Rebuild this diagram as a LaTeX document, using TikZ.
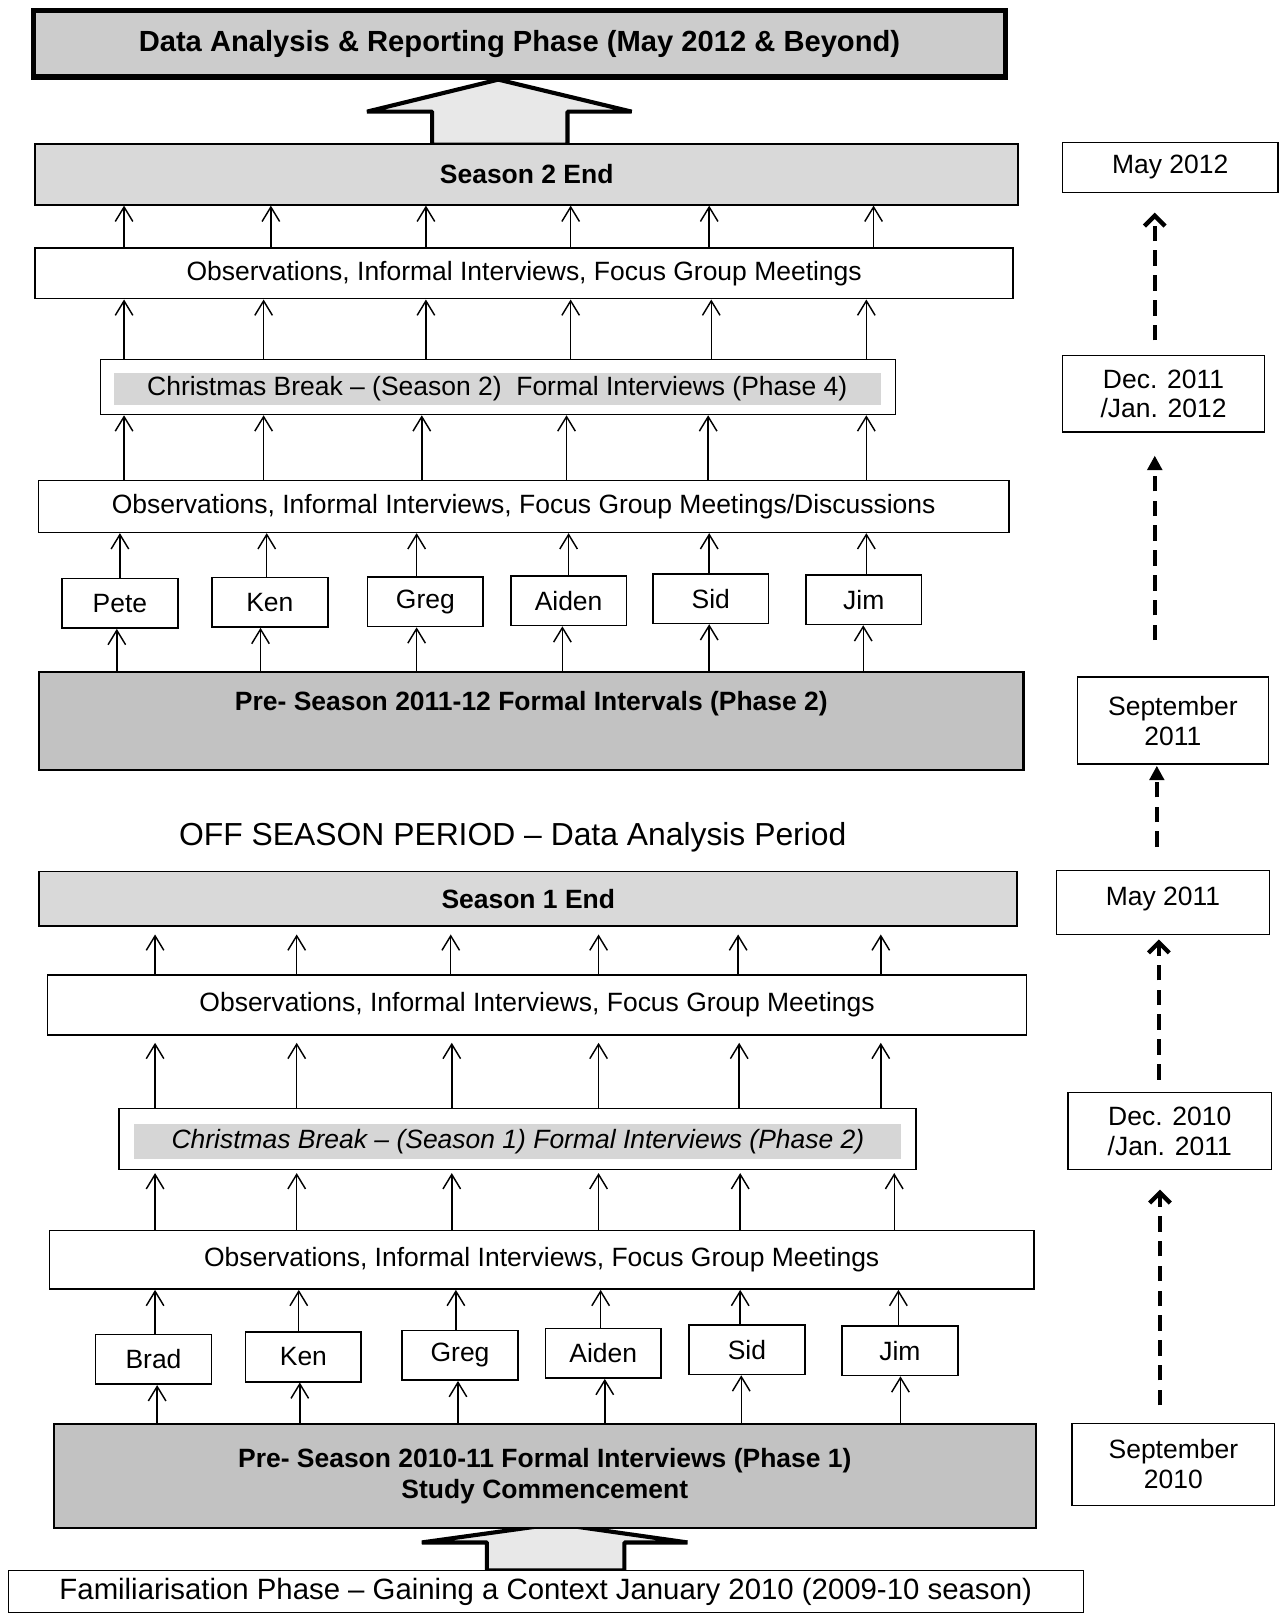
\documentclass[tikz,border=0pt]{standalone}
\usepackage{fontspec}
\setmainfont{Liberation Sans}
\usetikzlibrary{arrows.meta}
\definecolor{titlegray}{gray}{0.80}
\definecolor{endgray}{gray}{0.85}
\definecolor{pregray}{gray}{0.76}
\definecolor{bandgray}{gray}{0.84}
\definecolor{arrowfill}{gray}{0.91}
\begin{document}
\begin{tikzpicture}[x=0.5pt,y=-0.5pt,
  every node/.style={font=\fontsize{12.8}{14.5}\selectfont, inner sep=0pt, align=center},
  sz/.style 2 args={minimum width=#1*0.5pt, minimum height=#2*0.5pt},
  plain/.style={rectangle, draw, line width=0.7pt, fill=white},
  endbox/.style={rectangle, draw, line width=0.9pt, fill=endgray, font=\fontsize{12.8}{14.5}\selectfont\bfseries},
  prebox/.style={rectangle, draw, line width=1pt, fill=pregray, font=\fontsize{12.8}{15}\selectfont\bfseries},
  namebox/.style={plain, line width=0.8pt, sz={112}{48}},
  datebox/.style={plain},
  band/.style={rectangle, fill=bandgray},
  up/.style={line width=0.7pt, -{Straight Barb[length=7pt,width=8.5pt]}},
  timeline/.style={line width=2.1pt, dash pattern=on 7.5pt off 4.5pt},
  barbtip/.style={-{Straight Barb[length=5pt,width=10pt]}},
  filltip/.style={-{Triangle[length=7pt,width=7pt]}},
  blockarrow/.style={draw, line width=2pt, fill=arrowfill, line join=bevel}
]
\useasboundingbox (0,0) rectangle (1237,1568);
\fill[white] (0,0) rectangle (1237,1568);

% ---------- block arrows ----------
\path[blockarrow] (418,140) -- (418,108) -- (355,108) -- (482,77) -- (611,108)
  -- (549,108) -- (549,140) -- cycle;
\path[blockarrow] (471,1519) -- (471,1492) -- (408,1492) -- (538,1474) -- (665,1492)
  -- (604,1492) -- (604,1519) -- cycle;

% ---------- season 2 column ----------
\node[rectangle, draw, line width=2.5pt, fill=titlegray, sz={940}{64},
  font=\fontsize{14.1}{16}\selectfont\bfseries] (report) at (502.5,42.5)
  {Data Analysis \& Reporting Phase (May 2012 \& Beyond)};
\node[endbox, sz={951}{59}] (s2end) at (509.5,168.5) {Season 2 End};
\node[plain, sz={946}{49}] (obs1) at (507,264.5)
  {Observations, Informal Interviews, Focus Group Meetings};
\node[plain, sz={769}{53}] (cb2) at (481.5,374.5) {};
\node[band, sz={742}{31}] (cb2t) at (481,376)
  {Christmas Break -- (Season 2) \ Formal Interviews (Phase 4)};
\node[plain, sz={939}{50}] (obs2) at (506.5,490)
  {Observations, Informal Interviews, Focus Group Meetings/Discussions};
\node[namebox] (pete)  at (116,583.5)  {Pete};
\node[namebox] (ken2)  at (261,582.5)  {Ken};
\node[namebox] (greg2) at (411.5,582)  {Greg};
\node[namebox] (aid2)  at (550,581)    {Aiden};
\node[namebox] (sid2)  at (687.5,579)  {Sid};
\node[namebox] (jim2)  at (835.5,580)  {Jim};
\node[prebox, sz={952}{95}] (pre2) at (514,697.5)
  {\raisebox{8.25pt}[\height][\depth]{Pre- Season 2011-12 Formal Intervals (Phase 2)}};

% ---------- off season ----------
\node[font=\fontsize{15.4}{17}\selectfont] (off) at (496,810)
  {OFF SEASON PERIOD -- Data Analysis Period};

% ---------- season 1 column ----------
\node[endbox, sz={946}{53}] (s1end) at (511,869.5) {Season 1 End};
\node[plain, sz={947}{58}] (obs3) at (519.5,972)
  {Observations, Informal Interviews, Focus Group Meetings};
\node[plain, sz={771}{59}] (cb1) at (500.5,1101.5) {};
\node[band, sz={742}{34}, font=\fontsize{12.8}{14.5}\selectfont\itshape] (cb1t) at (501,1104)
  {Christmas Break -- (Season 1) Formal Interviews (Phase 2)};
\node[plain, sz={952}{57}] (obs4) at (524,1218.5)
  {Observations, Informal Interviews, Focus Group Meetings};
\node[namebox] (brad)  at (148.5,1315)  {Brad};
\node[namebox] (ken1)  at (293.5,1312.5){Ken};
\node[namebox] (greg1) at (445,1311)    {Greg};
\node[namebox] (aid1)  at (583.5,1309)  {Aiden};
\node[namebox] (sid1)  at (722.5,1305.5){Sid};
\node[namebox] (jim1)  at (870.5,1306.5){Jim};
\node[prebox, sz={950}{101}] (pre1) at (527,1427.5)
  {Pre- Season 2010-11 Formal Interviews (Phase 1)\\Study Commencement};
\node[plain, sz={1040}{41}, font=\fontsize{14.2}{16}\selectfont] (fam) at (528,1539.5)
  {Familiarisation Phase -- Gaining a Context January 2010 (2009-10 season)};

% ---------- dates ----------
\node[datebox, sz={208}{48}] (may12) at (1132,162) {May 2012};
\node[datebox, sz={195}{74}] (dec11) at (1125.5,381) {Dec. 2011\\/Jan. 2012};
\node[datebox, sz={185}{84}] (sep11) at (1134.5,697) {September\\2011};
\node[datebox, sz={206}{62}] (may11) at (1125,873) {\raisebox{1.5pt}[\height][\depth]{May 2011}};
\node[datebox, sz={197}{74}] (dec10) at (1131.5,1094) {Dec. 2010\\/Jan. 2011};
\node[datebox, sz={196}{79}] (sep10) at (1135,1416.5) {September\\2010};

% ---------- participant arrows, season 2 ----------
\foreach \x in {120,262,412,552,686,845}
  \draw[up] (obs1.north -| \x,0) -- (s2end.south -| \x,0);
\foreach \x in {120,255,412,552,688,838}
  \draw[up] (cb2.north -| \x,0) -- (obs1.south -| \x,0);
\foreach \x in {120,255,408,548,685,838}
  \draw[up] (obs2.north -| \x,0) -- (cb2.south -| \x,0);
\foreach \n/\x in {pete/116,ken2/258,greg2/403,aid2/550,sid2/686,jim2/838}
  \draw[up] (\n.north -| \x,0) -- (obs2.south -| \x,0);
\foreach \n/\x in {pete/113,ken2/252,greg2/403,aid2/544,sid2/686,jim2/835}
  \draw[up] (pre2.north -| \x,0) -- (\n.south -| \x,0);

% ---------- participant arrows, season 1 ----------
\foreach \x in {150,287,436,579,714,852}
  \draw[up, shorten >=3.5pt] (obs3.north -| \x,0) -- (s1end.south -| \x,0);
\foreach \x in {150,287,437,579,715,852}
  \draw[up, shorten >=3.5pt] (cb1.north -| \x,0) -- (obs3.south -| \x,0);
\foreach \x in {150,287,437,579,716,865}
  \draw[up, shorten >=1.5pt] (obs4.north -| \x,0) -- (cb1.south -| \x,0);
\foreach \n/\x in {brad/150,ken1/289,greg1/441,aid1/581,sid1/716,jim1/869}
  \draw[up] (\n.north -| \x,0) -- (obs4.south -| \x,0);
\foreach \n/\x in {brad/152,ken1/290,greg1/443,aid1/585,sid1/717,jim1/871}
  \draw[up] (pre1.north -| \x,0) -- (\n.south -| \x,0);

% ---------- timeline ----------
\draw[timeline, barbtip, shorten <=7pt, shorten >=9.5pt]
  (dec11.north -| 1117,0) -- (may12.south -| 1117,0);
\draw[timeline, filltip, shorten <=17.5pt, shorten >=11pt]
  (sep11.north -| 1117,0) -- (dec11.south -| 1117,0);
\draw[timeline, filltip, shorten <=11pt, shorten >=0.5pt]
  (may11.north -| 1119,0) -- (sep11.south -| 1119,0);
\draw[timeline, barbtip, shorten <=6pt, shorten >=2pt]
  (dec10.north -| 1121,0) -- (may11.south -| 1121,0);
\draw[timeline, barbtip, shorten <=8.5pt, shorten >=9.5pt]
  (sep10.north -| 1122,0) -- (dec10.south -| 1122,0);
\end{tikzpicture}
\end{document}
